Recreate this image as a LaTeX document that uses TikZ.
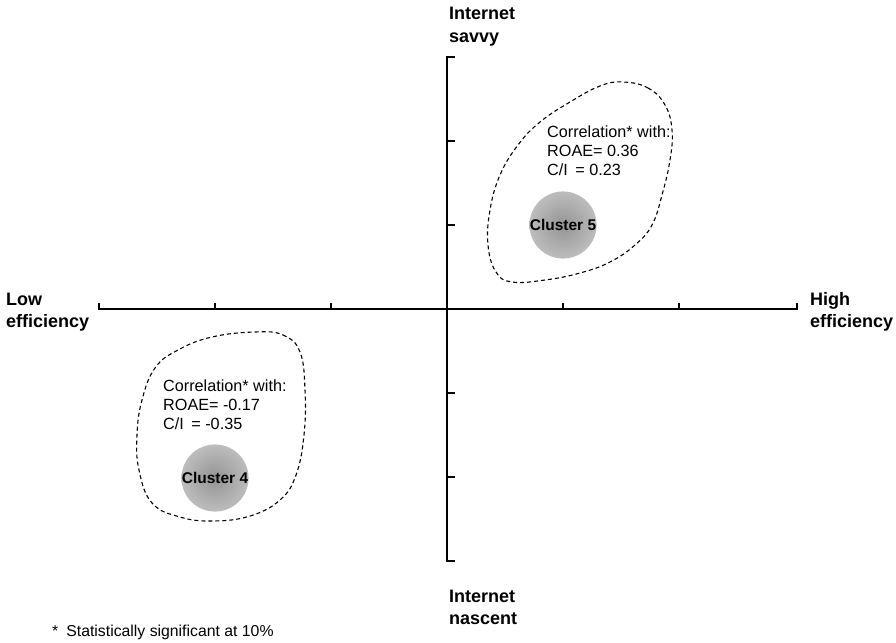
\documentclass[tikz,border=0pt]{standalone}
\usepackage{fontspec}
\setmainfont{Liberation Sans}
\begin{document}
\begin{tikzpicture}[x=1pt,y=-1pt,
  axis/.style={line width=1.4pt},
  lbl/.style={font=\fontsize{18}{22}\selectfont\bfseries, anchor=base west, inner sep=0},
  txt/.style={font=\fontsize{16.2}{19}\selectfont, anchor=base west, inner sep=0},
  blob/.style={line width=1.1pt, dash pattern=on 4pt off 3pt},
  clus/.style={circle, minimum size=45pt, inner sep=0, inner color=black!42, outer color=black!26, font=\fontsize{15.5}{18}\selectfont\bfseries}]
\useasboundingbox (0,0) rectangle (896,642);
% horizontal axis
\coordinate (hl) at (99,303);
\coordinate (hl0) at (99,309);
\coordinate (hr0) at (797,309);
\coordinate (hr) at (797,303);
\draw[axis] (hl) -- (hl0) -- (hr0) -- (hr);
\foreach \x in {215,331,563,679} \draw[axis] (\x,309) -- (\x,303);
% vertical axis
\coordinate (vt) at (455,57);
\coordinate (vt0) at (447,57);
\coordinate (vb0) at (447,561);
\coordinate (vb) at (455,561);
\draw[axis] (vt) -- (vt0) -- (vb0) -- (vb);
\foreach \y in {141,225,393,477} \draw[axis] (447,\y) -- (455,\y);
% axis labels
\node[lbl] (is1) at (449,20) {Internet};
\node[lbl] (is2) at (449,42) {savvy};
\node[lbl] (in1) at (449,602) {Internet};
\node[lbl] (in2) at (449,624) {nascent};
\node[lbl] (le1) at (6,305) {Low};
\node[lbl] (le2) at (6,327) {efficiency};
\node[lbl] (he1) at (810,305) {High};
\node[lbl] (he2) at (810,327) {efficiency};
% blobs
\draw[blob] plot[smooth cycle, tension=0.7] coordinates {(623,82) (648,88) (665,105) (672,130) (670,160) (662,195) (652,225) (635,245) (610,262) (580,273) (545,280) (512,282) (496,272) (488,245) (490,210) (500,175) (518,145) (540,122) (570,102) (600,86)};
\draw[blob] plot[smooth cycle, tension=0.7] coordinates {(255,332) (283,335) (300,352) (305,390) (304,435) (296,475) (280,500) (250,516) (213,521) (180,517) (152,503) (139,470) (137,435) (142,400) (155,368) (178,350) (212,337)};
% clusters
\node[clus] (c5) at (563,225) {Cluster 5};
\node[clus] (c4) at (215,478) {Cluster 4};
% correlation texts
\node[txt] (a1) at (547,137) {Correlation* with:};
\node[txt] (a2) at (547,156) {ROAE= 0.36};
\node[txt] (a3) at (547,175) {C/I\hspace{3pt} = 0.23};
\node[txt] (b1) at (163,391) {Correlation* with:};
\node[txt] (b2) at (163,410) {ROAE= -0.17};
\node[txt] (b3) at (163,429) {C/I\hspace{3pt} = -0.35};
% footnote
\node[txt, font=\fontsize{15.8}{18}\selectfont] (fn) at (52,636) {*\hspace{8pt}Statistically significant at 10\%};
\end{tikzpicture}
\end{document}
